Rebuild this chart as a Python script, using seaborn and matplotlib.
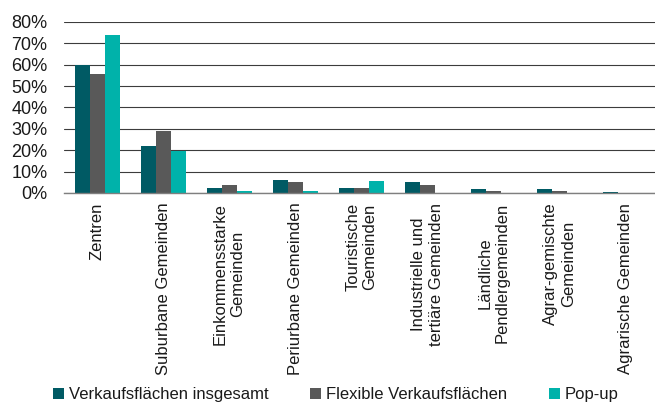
import pandas as pd
import matplotlib.pyplot as plt
import seaborn as sns
from matplotlib.ticker import FixedLocator, PercentFormatter

# Gemeindetypen (x-axis)
categories = [
    'Zentren',
    'Suburbane Gemeinden',
    'Einkommensstarke\nGemeinden',
    'Periurbane Gemeinden',
    'Touristische\nGemeinden',
    'Industrielle und\ntertiäre Gemeinden',
    'Ländliche\nPendlergemeinden',
    'Agrar-gemischte\nGemeinden',
    'Agrarische Gemeinden',
]
series_names = ['Verkaufsflächen insgesamt', 'Flexible Verkaufsflächen', 'Pop-up']

# shares in %
verkauf_total = [60.0, 22.0, 2.4, 6.2, 2.3, 5.0, 1.7, 1.7, 0.5]
verkauf_flex = [55.5, 29.0, 3.8, 5.3, 2.5, 3.7, 1.1, 0.8, 0.0]
popup = [74.0, 19.5, 1.1, 1.0, 5.6, 0.0, 0.0, 0.0, 0.0]

colors = ['#005a64', '#595959', '#00b2aa']

df = pd.DataFrame({
    'typ': categories * 3,
    'serie': [s for s in series_names for _ in categories],
    'anteil': verkauf_total + verkauf_flex + popup,
})

sns.set_style('white')
plt.rcParams['font.family'] = ['Liberation Sans', 'DejaVu Sans']

fig = plt.figure(figsize=(6.55, 4.07), dpi=100)
ax = fig.add_axes([0.0977, 0.526, 0.908, 0.42])

sns.barplot(data=df, x='typ', y='anteil', hue='serie', palette=colors,
            width=0.68, gap=0, saturation=1, linewidth=0, ax=ax, legend=True)

ax.set_ylim(0, 80)
ax.set_yticks(range(0, 81, 10))
ax.yaxis.set_major_formatter(PercentFormatter(decimals=0))
ax.set_xlim(-0.5, len(categories) - 0.5)
ax.grid(axis='y', color='#3c3c3c', linewidth=0.8)
ax.set_axisbelow(True)
for s in ['top', 'right', 'left']:
    ax.spines[s].set_visible(False)
ax.spines['bottom'].set_color('#7f7f7f')
ax.spines['bottom'].set_linewidth(1.0)

ax.set_xlabel('')
ax.set_ylabel('')
ax.tick_params(axis='y', length=0, labelsize=13, colors='#1a1a1a', pad=12)
ax.tick_params(axis='x', which='major', length=0, pad=7)
ax.xaxis.set_minor_locator(FixedLocator([i - 0.5 for i in range(len(categories) + 1)]))
ax.tick_params(axis='x', which='minor', length=5, width=1, color='#7f7f7f', direction='out')
ax.set_xticks(range(len(categories)))
ax.set_xticklabels(categories, rotation=90, ha='center', va='top',
                   multialignment='center', fontsize=12, color='#1a1a1a')

handles, labels = ax.get_legend_handles_labels()
ax.get_legend().remove()
fig.legend(handles, labels, loc='lower center', bbox_to_anchor=(0.513, -0.025),
           ncol=3, frameon=False, fontsize=12, handlelength=0.65, handleheight=0.65,
           handletextpad=0.3, columnspacing=2.5, labelcolor='#1a1a1a')

fig.savefig('out.png', dpi=100)
